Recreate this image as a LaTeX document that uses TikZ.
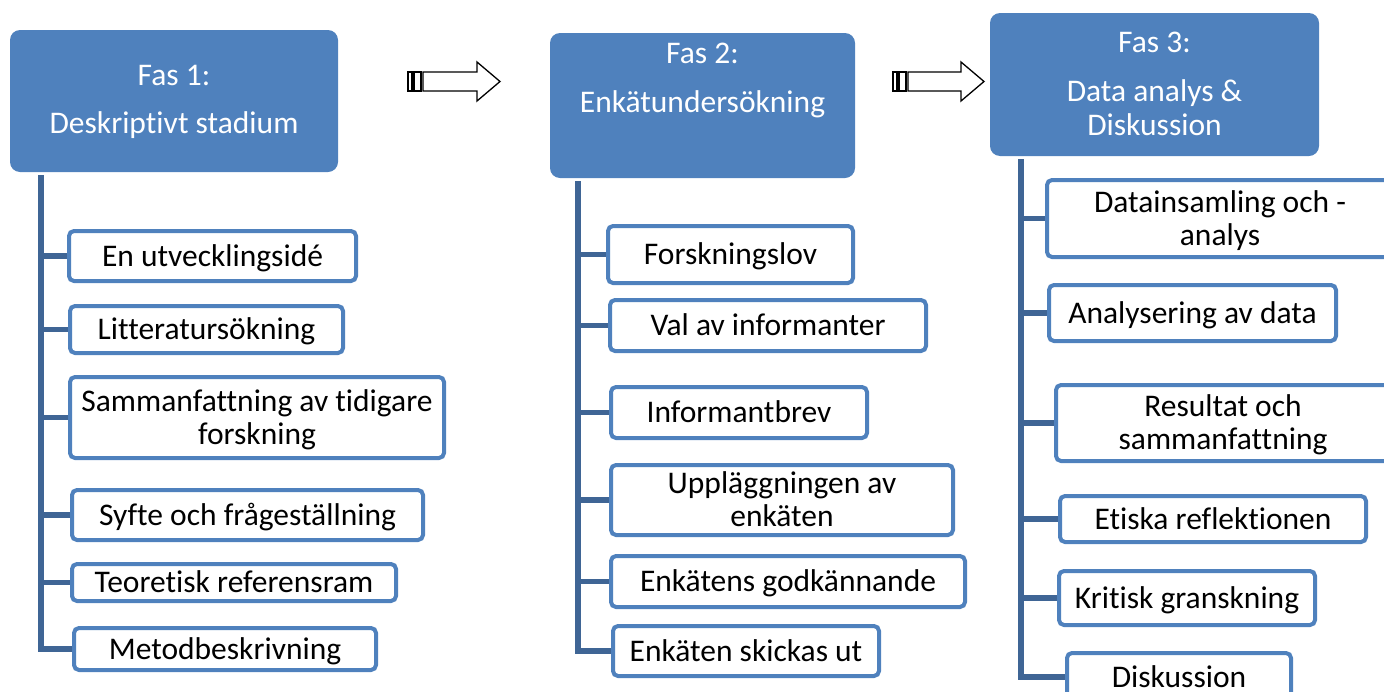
\documentclass[tikz,border=0pt]{standalone}
\usepackage{fontspec}
\setmainfont{Carlito}[Ligatures=NoCommon]
\definecolor{hdrblue}{HTML}{4F81BD}
\definecolor{connblue}{HTML}{3F6595}
\begin{document}
\begin{tikzpicture}[x=1pt,y=-1pt,
  hdrbox/.style={rectangle, rounded corners=10pt, fill=hdrblue, draw=none, inner sep=0pt},
  hdrtxt/.style={text=white, anchor=base, inner sep=0pt, font=\fontsize{31.5}{33}\selectfont},
  leafbox/.style={rectangle, rounded corners=5pt, draw=hdrblue, line width=4pt, fill=white,
    inner sep=0pt, align=center, font=\fontsize{31.5}{33}\selectfont,
    text height=26.8pt, text depth=6.5pt},
  leafboxtwo/.style={leafbox, text height=59.8pt, text depth=6.5pt},
  connline/.style={draw=connblue, line width=5.5pt, line join=miter},
  stripearrow/.style={draw=black, line width=1.3pt, fill=white, line join=miter}]
\useasboundingbox (0,0) rectangle (1384,691);
\clip (0,0) rectangle (1384,691);

% headers
\node[hdrbox, minimum width=328pt, minimum height=142pt] (h1) at (174,101) {};
\node[hdrbox, minimum width=305pt, minimum height=145pt] (h2) at (702.5,105.5) {};
\node[hdrbox, minimum width=329pt, minimum height=143pt] (h3) at (1154.5,84.5) {};
\node[hdrtxt] (h1a) at (174,85) {Fas 1:};
\node[hdrtxt] (h1b) at (174,133) {Deskriptivt stadium};
\node[hdrtxt] (h2a) at (702.5,63) {Fas 2:};
\node[hdrtxt] (h2b) at (702.5,112) {Enkätundersökning};
\node[hdrtxt] (h3a) at (1154.5,52) {Fas 3:};
\node[hdrtxt] (h3b) at (1154.5,101) {Data analys \&};
\node[hdrtxt] (h3c) at (1154.5,135) {Diskussion};

% striped arrows
\draw[stripearrow] (408,72) rectangle (412,91);
\draw[stripearrow] (414,72) rectangle (421,91);
\draw[stripearrow] (423,72) -- (477,72) -- (477,62) -- (500,81.5) -- (477,101) -- (477,91) -- (423,91) -- cycle;
\draw[stripearrow] (893,72) rectangle (897,91);
\draw[stripearrow] (899,72) rectangle (906,91);
\draw[stripearrow] (908,72) -- (961,72) -- (961,62) -- (984,81.5) -- (961,101) -- (961,91) -- (908,91) -- cycle;

% column 1 children
\node[leafbox, minimum width=287pt, minimum height=50pt] (c11) at (212.5,256) {En utvecklingsidé};
\node[leafbox, minimum width=273pt, minimum height=47pt] (c12) at (206.5,329.5) {Litteratursökning};
\node[leafboxtwo, minimum width=374pt, minimum height=81pt] (c13) at (257,417.5) {Sammanfattning av tidigare\\forskning};
\node[leafbox, minimum width=351pt, minimum height=50pt] (c14) at (247.5,515) {Syfte och frågeställning};
\node[leafbox, minimum width=324pt, minimum height=37pt] (c15) at (234,582.5) {Teoretisk referensram};
\node[leafbox, minimum width=302pt, minimum height=42pt] (c16) at (225,649) {Metodbeskrivning};

% column 2 children
\node[leafbox, minimum width=245pt, minimum height=57pt] (c21) at (730.5,254.5) {Forskningslov};
\node[leafbox, minimum width=316pt, minimum height=51pt] (c22) at (768,325.5) {Val av informanter};
\node[leafbox, minimum width=256pt, minimum height=51pt] (c23) at (739,412.5) {Informantbrev};
\node[leafboxtwo, minimum width=342pt, minimum height=70pt] (c24) at (782,500) {Uppläggningen av\\enkäten};
\node[leafbox, minimum width=354pt, minimum height=51pt] (c25) at (788,581.5) {Enkätens godkännande};
\node[leafbox, minimum width=266pt, minimum height=50pt] (c26) at (746,651) {Enkäten skickas ut};

% column 3 children
\node[leafboxtwo, minimum width=346pt, minimum height=77pt] (c31) at (1220,218.5) {Datainsamling och -\\analys};
\node[leafbox, minimum width=287pt, minimum height=56pt] (c32) at (1192.5,313) {Analysering av data};
\node[leafboxtwo, minimum width=334pt, minimum height=76pt] (c33) at (1223,423) {Resultat och\\sammanfattning};
\node[leafbox, minimum width=306pt, minimum height=46pt] (c34) at (1213,519) {Etiska reflektionen};
\node[leafbox, minimum width=256pt, minimum height=54pt] (c35) at (1187,598) {Kritisk granskning};
\node[leafbox, minimum width=224pt, minimum height=48pt] (c36) at (1179,677) {Diskussion};

% connectors
\coordinate (t1) at ([xshift=31pt,yshift=-3pt]h1.south west);
\coordinate (t2) at ([xshift=28pt,yshift=-3pt]h2.south west);
\coordinate (t3) at ([xshift=31pt,yshift=-3pt]h3.south west);
\draw[connline] (t1) |- (c11.west) (t1) |- (c12.west) (t1) |- (c13.west)
  (t1) |- (c14.west) (t1) |- (c15.west) (t1) |- (c16.west);
\draw[connline] (t2) |- (c21.west) (t2) |- (c22.west) (t2) |- (c23.west)
  (t2) |- (c24.west) (t2) |- (c25.west) (t2) |- (c26.west);
\draw[connline] (t3) |- (c31.west) (t3) |- (c32.west) (t3) |- (c33.west)
  (t3) |- (c34.west) (t3) |- (c35.west) (t3) |- (c36.west);
\end{tikzpicture}
\end{document}
